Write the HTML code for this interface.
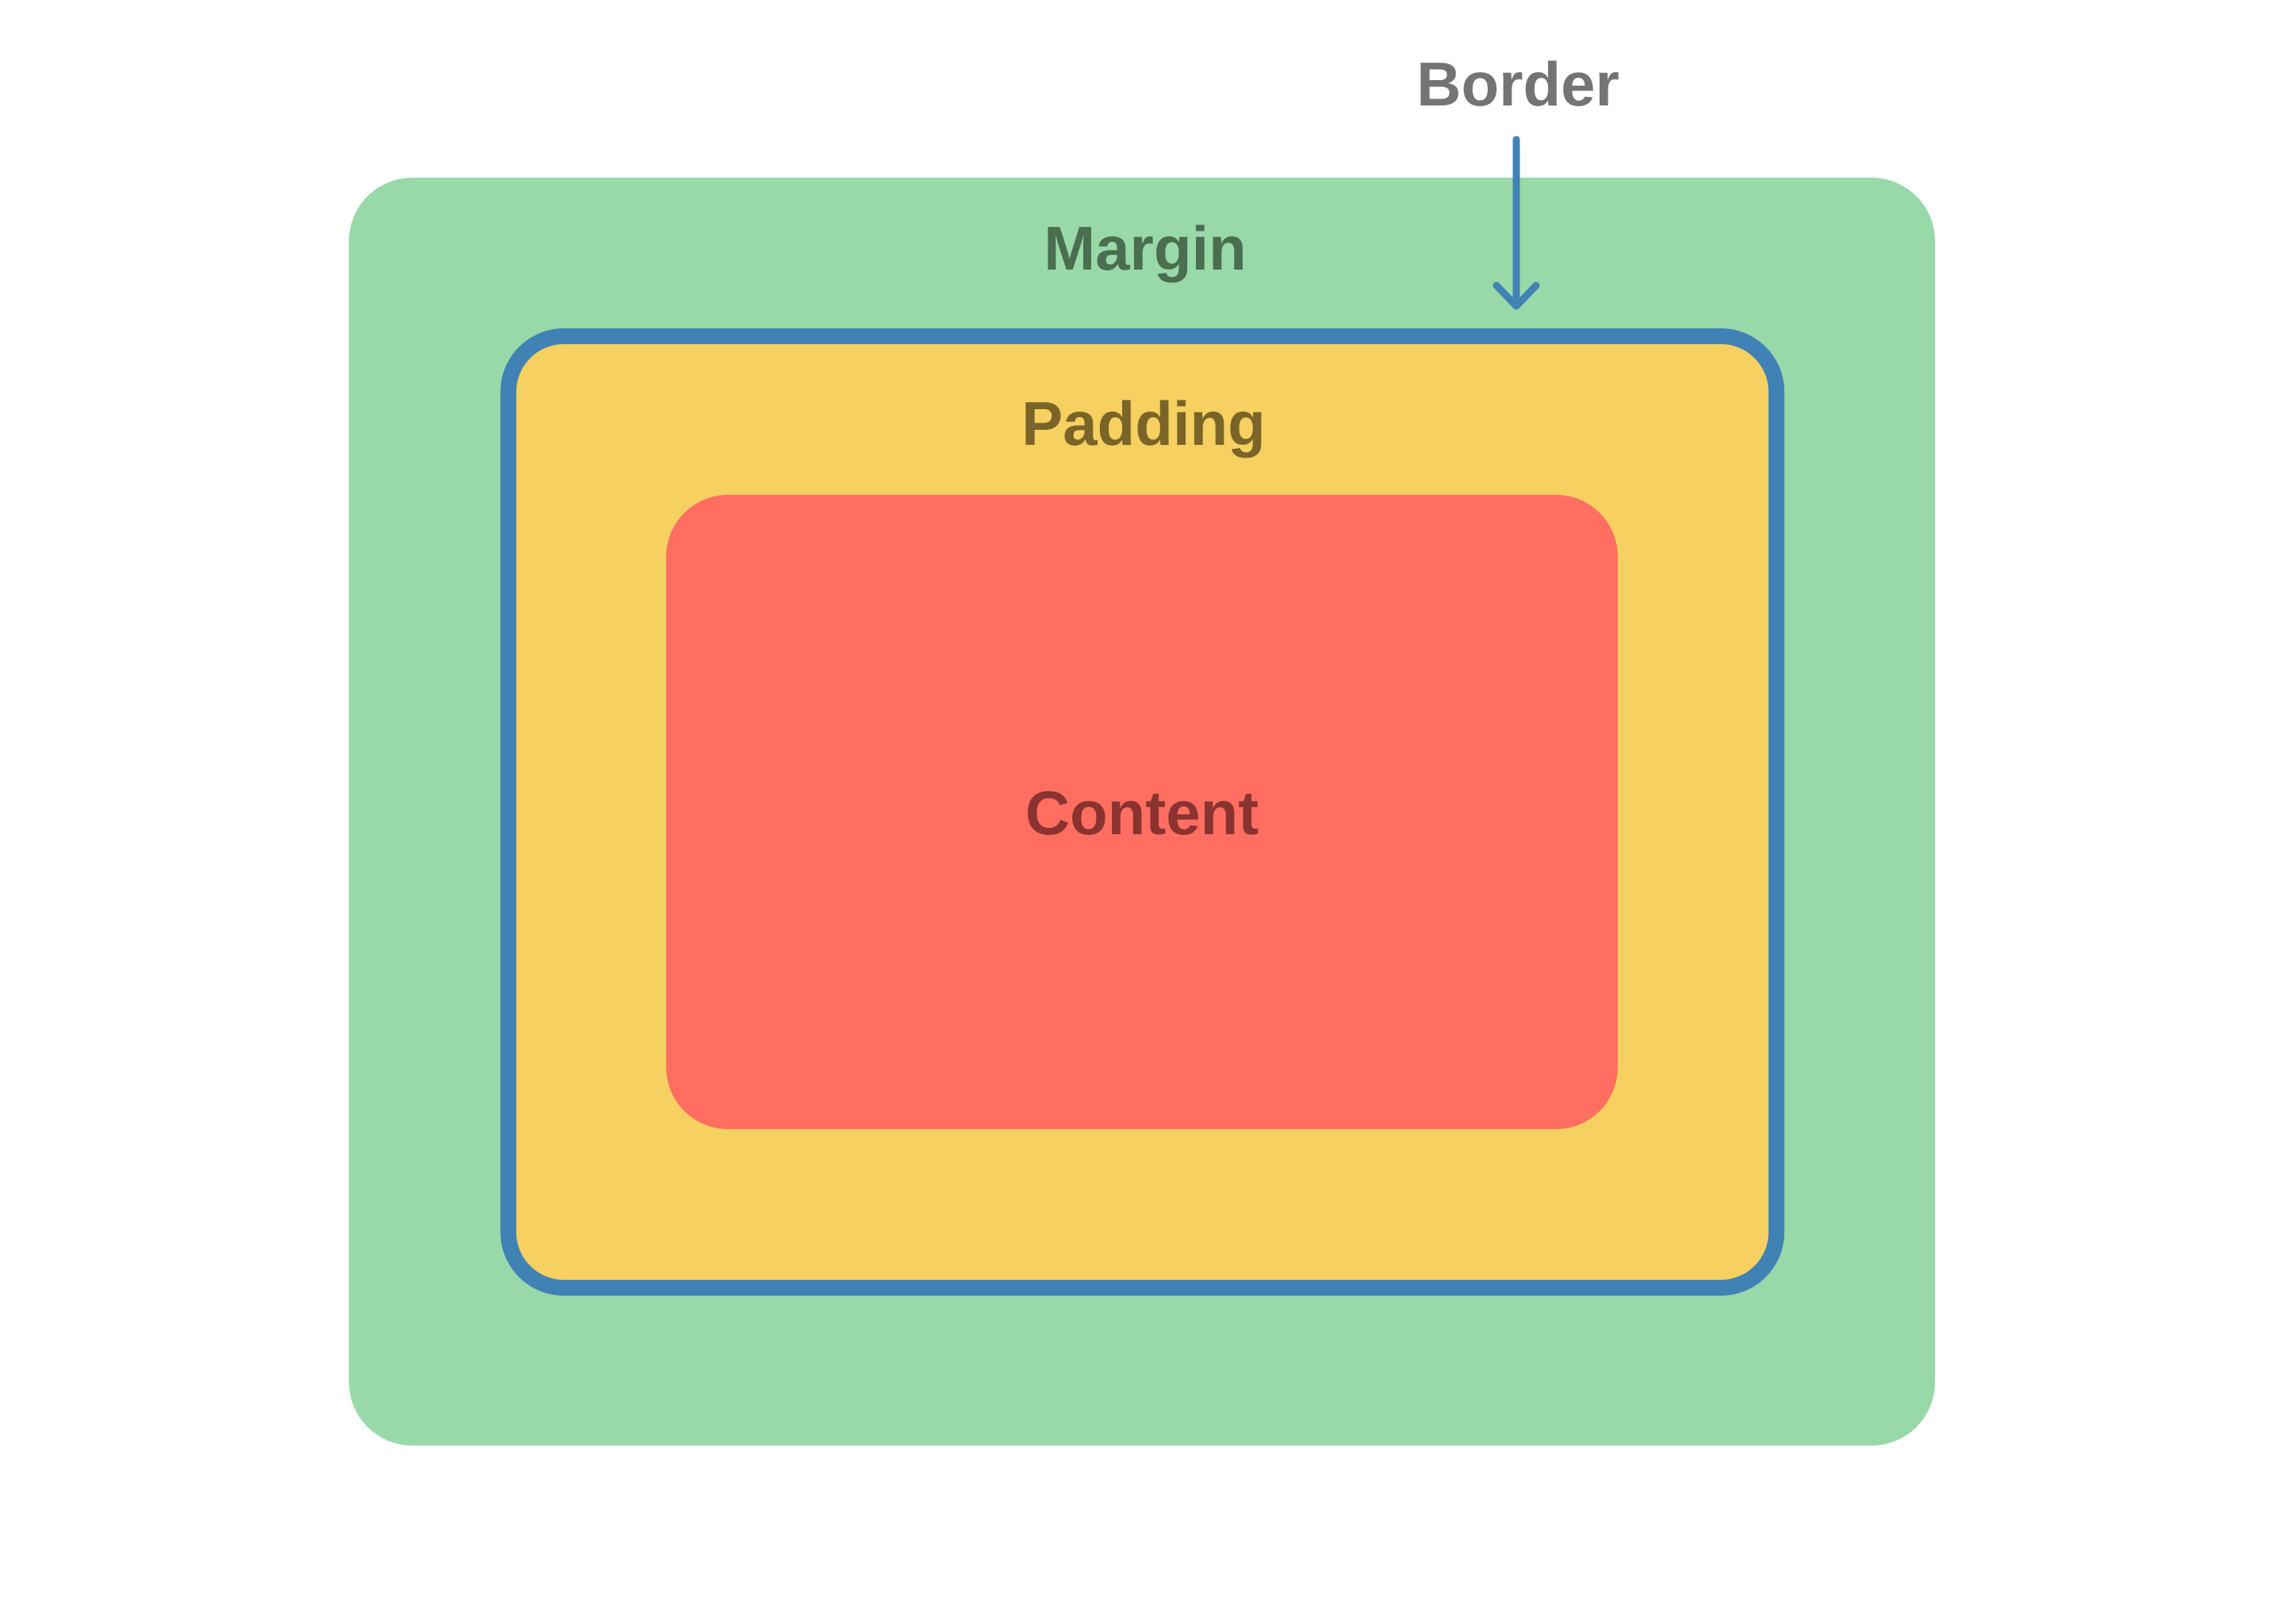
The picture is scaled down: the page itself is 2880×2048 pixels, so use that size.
<!DOCTYPE html>
<html><head><meta charset="utf-8"><style>
html,body{margin:0;padding:0;background:#fff;width:2880px;height:2048px;overflow:hidden}
svg{display:block}
text{font-family:"Liberation Sans",sans-serif;font-weight:bold;font-size:78px;text-anchor:middle}
</style></head><body>
<svg width="2880" height="2048" viewBox="0 0 2880 2048">
<rect x="440" y="224" width="2000" height="1599" rx="80" fill="#99d9a9"/>
<rect x="641" y="424" width="1599" height="1200" rx="70" fill="#f6d060" stroke="#4082b4" stroke-width="20"/>
<rect x="840" y="624" width="1200" height="800" rx="78" fill="#ff6e61"/>
<line x1="1912" y1="176" x2="1912" y2="384" stroke="#4082b4" stroke-width="9" stroke-linecap="round"/>
<polyline points="1887,360 1912,386 1937,360" fill="none" stroke="#4082b4" stroke-width="9" stroke-linecap="round" stroke-linejoin="round"/>
<text x="1914" y="133" fill="#747474">Border</text>
<text x="1444" y="340" fill="#4a6e4f">Margin</text>
<text x="1442" y="561" fill="#7a6428">Padding</text>
<text x="1440" y="1052" fill="#8a3330">Content</text>
</svg>
</body></html>
